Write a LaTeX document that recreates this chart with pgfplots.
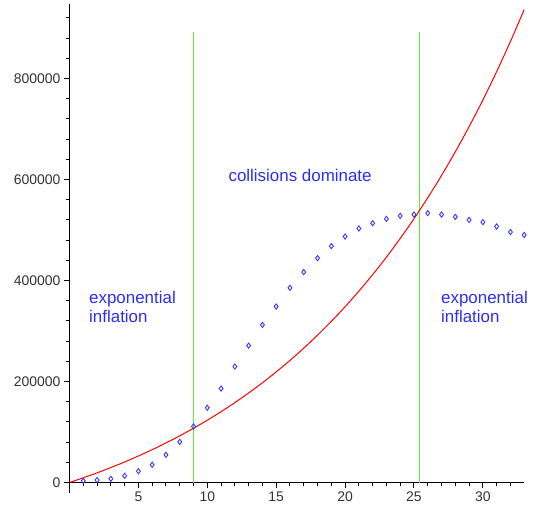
\documentclass[border=0pt]{standalone}
\usepackage{fontspec}
\setmainfont{Liberation Sans}
\usepackage{pgfplots}
\pgfplotsset{compat=1.18}

\definecolor{maplered}{RGB}{255,0,0}
\definecolor{mapleblue}{RGB}{55,55,250}
\definecolor{limeline}{RGB}{100,230,60}
\definecolor{textblue}{RGB}{45,45,240}

\begin{document}
\begin{tikzpicture}
\useasboundingbox (-69.5bp,-22.5bp) rectangle (479.5bp,482.5bp);
\begin{axis}[
    scale only axis,
    width=454.7bp, height=478.5bp,
    xmin=0, xmax=33,
    ymin=0, ymax=947500,
    clip=false,
    axis x line=bottom, axis y line=left,
    axis line style={-, black, line width=1bp},
    tick align=outside,
    tick style={black, line width=1bp},
    major tick length=5.5bp, minor tick length=3bp,
    xtick={5,10,...,30},
    minor xtick={1,2,...,32},
    ytick={0,200000,400000,600000,800000},
    minor ytick={40000,80000,...,920000},
    scaled y ticks=false,
    /pgf/number format/assume math mode=true,
    yticklabel style={/pgf/number format/fixed, /pgf/number format/1000 sep={}},
    ticklabel style={font=\fontsize{14}{14}\selectfont, text=black!80},
]
% green boundaries (thin filled strips)
\addplot[fill=limeline, draw=none, no marks] coordinates {
    (8.953,0) (9.047,0) (9.047,892000) (8.953,892000)} -- cycle;
\addplot[fill=limeline, draw=none, no marks] coordinates {
    (25.353,0) (25.447,0) (25.447,892000) (25.353,892000)} -- cycle;
% exponential curve
\addplot[draw=maplered, line width=1bp, smooth, no marks] coordinates {
    (0,0) (1,9275) (2,19125) (3,29583) (4,40687) (5,52479) (6,64999)
    (7,78294) (8,92411) (9,107401) (10,123318) (11,140219) (12,158165)
    (13,177221) (14,197455) (15,218940) (16,241755) (17,265979)
    (18,291702) (19,319015) (20,348018) (21,378813) (22,411513)
    (23,446235) (24,483105) (25,522253) (26,563823) (27,607964)
    (28,654834) (29,704601) (30,757447) (31,813560) (32,873144)
    (33,936411)
};
% points
\addplot[only marks, mark=diamond, mark size=2.6bp,
         mark options={draw=mapleblue, fill=none, line width=0.9bp}] coordinates {
    (1,3300) (2,4800) (3,7300) (4,13200) (5,22500) (6,35000)
    (7,54800) (8,80500) (9,111000) (10,148000) (11,186000)
    (12,229700) (13,271000) (14,312000) (15,348500) (16,385500)
    (17,416600) (18,444300) (19,468000) (20,487000) (21,503000)
    (22,513600) (23,522000) (24,528000) (25,530600) (26,533400)
    (27,530600) (28,526000) (29,520000) (30,515600) (31,507000)
    (32,496000) (33,490000)
};
\draw[black, line width=1bp] (axis cs:0,0) -- ++(0,-10bp);
\draw[black, line width=1bp] (axis cs:0,0) -- ++(-4bp,0);
\begin{scope}[every node/.style={font=\fontsize{17}{19}\selectfont, text=textblue, inner sep=0pt}]
\node[anchor=base west] at (axis cs:11.53,595600) {collisions dominate};
\node[anchor=base west] at (axis cs:1.415,354800) {exponential};
\node[anchor=base west] at (axis cs:1.415,317400) {inflation};
\node[anchor=base west] at (axis cs:26.96,354800) {exponential};
\node[anchor=base west] at (axis cs:26.96,317400) {inflation};
\end{scope}
\end{axis}
\end{tikzpicture}
\end{document}
